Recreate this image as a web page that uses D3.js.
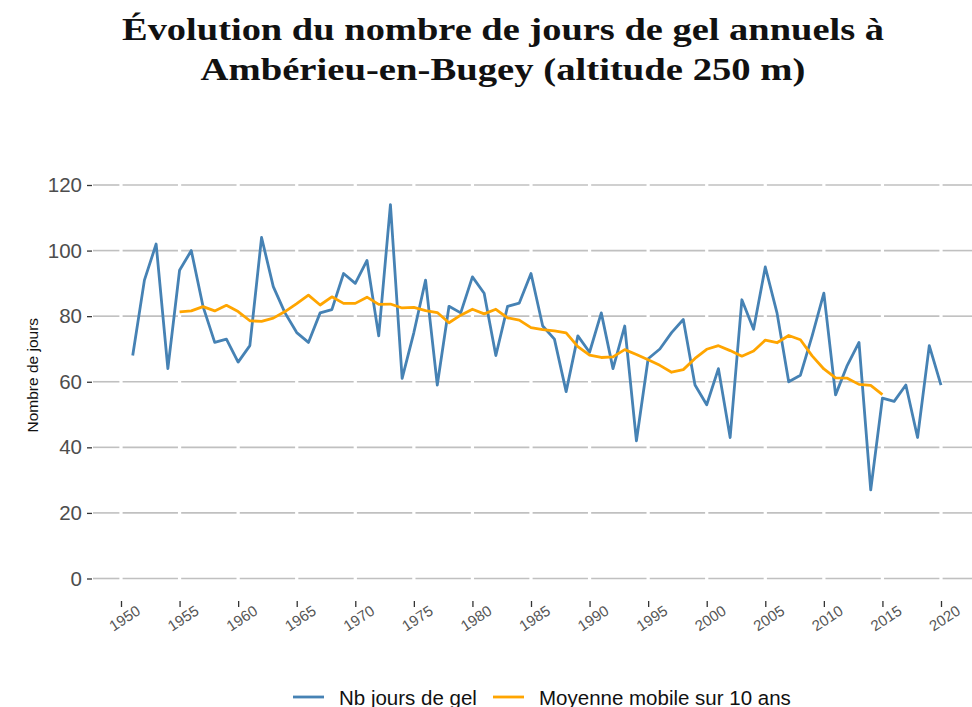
<!DOCTYPE html>
<html lang="fr">
<head>
<meta charset="utf-8">
<title>Jours de gel – Ambérieu-en-Bugey</title>
<script src="https://cdn.jsdelivr.net/npm/d3@7"></script>
<style>
  html, body { margin: 0; padding: 0; background: #ffffff; }
  svg { display: block; }
</style>
</head>
<body>
<svg id="chart" width="972" height="707"></svg>
<script>
// Nombre annuel de jours de gel, 1951–2020
const years = d3.range(1951, 2021);
const frostDays = [
  68, 91, 102, 64, 94, 100, 83, 72, 73, 66,   // 1951–1960
  71, 104, 89, 81, 75, 72, 81, 82, 93, 90,    // 1961–1970
  97, 74, 114, 61, 75, 91, 59, 83, 81, 92,    // 1971–1980
  87, 68, 83, 84, 93, 77, 73, 57, 74, 69,     // 1981–1990
  81, 64, 77, 42, 67, 70, 75, 79, 59, 53,     // 1991–2000
  64, 43, 85, 76, 95, 81, 60, 62, 74, 87,     // 2001–2010
  56, 65, 72, 27, 55, 54, 59, 43, 71, 59      // 2011–2020
];

// Moyenne mobile sur 10 ans, 1955–2015
const maYears = d3.range(1955, 2016);
const movingAvg = [
  81.3, 81.6, 82.9, 81.6, 83.3, 81.4,               // 1955–1960
  78.6, 78.4, 79.4, 81.4, 83.8, 86.4, 83.4, 85.9, 83.9, 83.9, // 1961–1970
  85.8, 83.6, 83.7, 82.5, 82.7, 81.7, 81.1, 78.0, 80.3, 82.1, // 1971–1980
  80.7, 82.1, 79.5, 78.8, 76.5, 75.9, 75.5, 74.9, 70.7, 68.1, // 1981–1990
  67.4, 67.6, 69.8, 68.3, 66.7, 65.0, 62.9, 63.7, 67.1, 69.9, // 1991–2000
  71.0, 69.5, 67.8, 69.4, 72.7, 71.9, 74.1, 72.8, 67.9, 63.9, // 2001–2010
  61.2, 61.1, 59.2, 58.9, 56.1                                // 2011–2015
];

const xTicks = d3.range(1950, 2021, 5);
const yTicks = [0, 20, 40, 60, 80, 100, 120];

const titleLines = [
  "Évolution du nombre de jours de gel annuels à",
  "Ambérieu-en-Bugey (altitude 250 m)"
];
const yAxisTitle = "Nombre de jours";
const seriesNames = ["Nb jours de gel", "Moyenne mobile sur 10 ans"];
const seriesColors = ["#4682b4", "#ffa500"];

const svg = d3.select("#chart");
const sans = "'Liberation Sans', Arial, Helvetica, sans-serif";

const x = d3.scaleLinear().domain([1950, 2020]).range([121, 941]);
const y = d3.scaleLinear().domain([0, 120]).range([578.5, 185]);

// Title (two centred lines, serif bold)
const title = svg.append("g").attr("font-family", "'Liberation Serif', 'Times New Roman', serif")
  .attr("font-weight", "bold").attr("fill", "#111");
const titleSpecs = [{ yb: 40, len: 762 }, { yb: 80, len: 605 }];
titleLines.forEach((t, i) => {
  title.append("text")
    .attr("x", 503).attr("y", titleSpecs[i].yb)
    .attr("text-anchor", "middle")
    .attr("font-size", 31)
    .attr("textLength", titleSpecs[i].len)
    .attr("lengthAdjust", "spacingAndGlyphs")
    .text(t);
});

// Horizontal grid, broken at each x tick position
const gridLeft = 93, gridRight = 972, gap = 1.6;
const stops = xTicks.map(x);
const grid = svg.append("g").attr("stroke", "#c0c0c0").attr("stroke-width", 1.6);
yTicks.forEach(v => {
  let start = gridLeft;
  stops.forEach(s => {
    grid.append("line").attr("x1", start).attr("x2", s - gap)
      .attr("y1", y(v)).attr("y2", y(v));
    start = s + gap;
  });
  grid.append("line").attr("x1", start).attr("x2", gridRight)
    .attr("y1", y(v)).attr("y2", y(v));
});

// Y axis: labels and small ticks
const yAxis = d3.axisLeft(y).tickValues(yTicks).tickSize(5).tickPadding(5);
const yg = svg.append("g").attr("transform", "translate(92,0)").call(yAxis);
yg.select(".domain").remove();
yg.selectAll(".tick line").attr("stroke", "#333").attr("stroke-width", 1.3);
yg.selectAll(".tick text").attr("font-family", sans).attr("font-size", 20.5).attr("fill", "#4d4d4d");

// X axis: small ticks and slanted year labels
const xAxis = d3.axisBottom(x).tickValues(xTicks).tickSize(6).tickFormat(d3.format("d"));
const xg = svg.append("g").attr("transform", "translate(0,601)").call(xAxis);
xg.select(".domain").remove();
xg.selectAll(".tick line").attr("stroke", "#333").attr("stroke-width", 1.3);
xg.selectAll(".tick text")
  .attr("font-family", sans).attr("font-size", 15).attr("fill", "#555")
  .attr("text-anchor", "middle").attr("dy", null).attr("dominant-baseline", "central")
  .attr("transform", "translate(3,17) rotate(-33)").attr("y", 0);

// Y axis title
svg.append("text")
  .attr("transform", `translate(32,${y(62)}) rotate(-90)`)
  .attr("text-anchor", "middle").attr("dominant-baseline", "central")
  .attr("font-family", sans).attr("font-size", 15.5).attr("fill", "#111")
  .text(yAxisTitle);

// Series lines
const lineGen = d3.line().x(d => x(d[0])).y(d => y(d[1]));
svg.append("path")
  .datum(years.map((yr, i) => [yr, frostDays[i]]))
  .attr("d", lineGen).attr("fill", "none")
  .attr("stroke", seriesColors[0]).attr("stroke-width", 2.8)
  .attr("stroke-linejoin", "round");
svg.append("path")
  .datum(maYears.map((yr, i) => [yr, movingAvg[i]]))
  .attr("d", lineGen).attr("fill", "none")
  .attr("stroke", seriesColors[1]).attr("stroke-width", 2.8)
  .attr("stroke-linejoin", "round");

// Legend
const legendY = 697;
const legendItems = [{ x: 293 }, { x: 493 }];
legendItems.forEach((it, i) => {
  svg.append("line").attr("x1", it.x).attr("x2", it.x + 31)
    .attr("y1", legendY).attr("y2", legendY)
    .attr("stroke", seriesColors[i]).attr("stroke-width", 2.8);
  svg.append("text").attr("x", it.x + 46).attr("y", legendY)
    .attr("dominant-baseline", "central")
    .attr("font-family", sans).attr("font-size", 20.5).attr("fill", "#111")
    .text(seriesNames[i]);
});
</script>
</body>
</html>
